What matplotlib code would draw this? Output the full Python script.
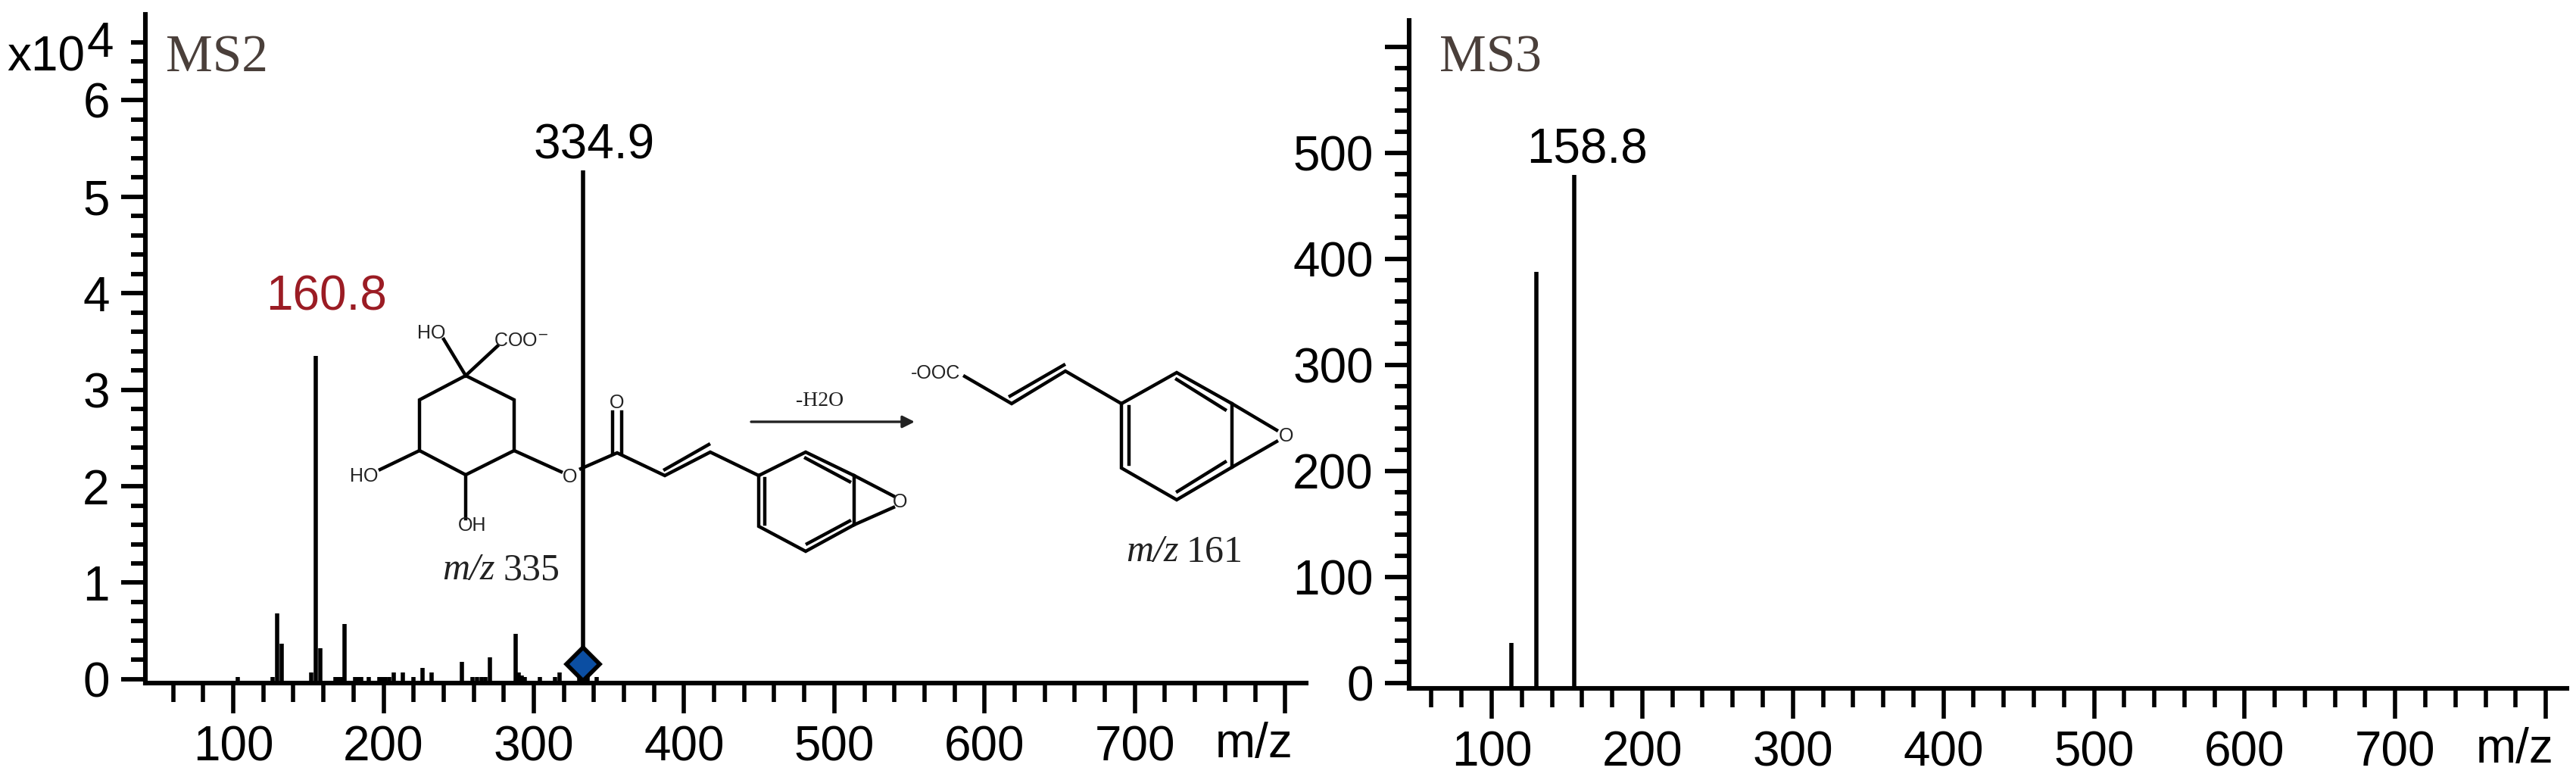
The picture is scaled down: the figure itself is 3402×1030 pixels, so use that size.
import numpy as np
import matplotlib
matplotlib.use("Agg")
import matplotlib.pyplot as plt

plt.rcParams['font.family'] = ['Liberation Sans', 'DejaVu Sans']

W, H = 3402, 1030

# MS2 peaks
ms2_mz = [103, 126, 129, 132, 152, 155, 158, 168, 170, 172, 174, 181, 183, 185, 190, 197, 199, 201, 204,
          207, 213, 220, 226, 232, 252, 259, 262, 265, 268, 271, 288, 290, 292, 294, 304, 314, 317, 330, 333, 336, 342]
ms2_int = [0.02, 0.02, 0.68, 0.37, 0.07, 3.35, 0.32, 0.02, 0.02, 0.02, 0.57, 0.02, 0.02, 0.02, 0.02, 0.02, 0.02, 0.02, 0.02,
           0.07, 0.07, 0.02, 0.12, 0.07, 0.18, 0.02, 0.02, 0.02, 0.02, 0.23, 0.47, 0.07, 0.04, 0.02, 0.02, 0.02, 0.07, 0.02, 5.27, 0.02, 0.02]
precursor_mz = 333
precursor_y = 0.155

# MS3 peaks
ms3_mz = [113, 129.5, 155]
ms3_int = [38, 388, 479]

xmajor = [100, 200, 300, 400, 500, 600, 700, 800]
xlabels = ['100', '200', '300', '400', '500', '600', '700', '']
xminor = [60, 80, 120, 140, 160, 180, 220, 240, 260, 280, 320, 340, 360, 380, 420, 440, 460, 480,
          520, 540, 560, 580, 620, 640, 660, 680, 720, 740, 760, 780]

ms2_major = [0, 1, 2, 3, 4, 5, 6]
ms2_labels = ['0', '1', '2', '3', '4', '5', '6']
ms2_minor = [v / 5 for v in range(34) if v % 5 != 0]

ms3_major = [0, 100, 200, 300, 400, 500, 600]
ms3_labels = ['0', '100', '200', '300', '400', '500', '']
ms3_minor = [v for v in range(20, 600, 20) if v % 100 != 0]

# chemical drawings, in picture pixels
quinic = [[(586, 448), (615, 496), (657, 457)],
          [(615, 496), (679, 528), (679, 595), (615, 627), (554, 595), (554, 528), (615, 496)],
          [(554, 595), (502, 620)], [(615, 627), (615, 685)],
          [(679, 595), (741, 623)], [(767, 619), (815, 598), (878, 628), (938, 597), (1002, 628)],
          [(809, 598), (809, 544)], [(821, 598), (821, 544)],
          [(878, 620), (936, 587)]]
ring1 = [[(1002, 628), (1064, 597), (1128, 628), (1128, 693), (1064, 728), (1002, 695), (1002, 628)],
         [(1064, 605), (1122, 636)], [(1010, 632), (1010, 692)], [(1066, 718), (1122, 688)],
         [(1128, 628), (1180, 655)], [(1128, 693), (1180, 670)]]
chain2 = [[(1274, 497), (1336, 533), (1407, 490), (1481, 533)], [(1334, 523), (1405, 482)]]
ring2 = [[(1481, 533), (1554, 492), (1627, 533), (1627, 617), (1554, 660), (1481, 618), (1481, 533)],
         [(1554, 501), (1618, 541)], [(1491, 537), (1491, 613)], [(1555, 649), (1618, 610)],
         [(1627, 533), (1686, 568)], [(1627, 617), (1686, 583)]]
small_labels = [('HO', 570, 440), ('COO$^{-}$', 688, 450), ('HO', 481, 629), ('OH', 624, 694),
                ('O', 753, 630), ('O', 815, 532), ('O', 1189, 663), ('-OOC', 1236, 493), ('O', 1699, 576)]


def add_panel(box, xlim, ylim, major, labels, minor):
    x0, y0, x1, y1 = box
    ax = fig.add_axes([x0 / W, 1 - y1 / H, (x1 - x0) / W, (y1 - y0) / H])
    ax.set_xlim(xlim)
    ax.set_ylim(ylim)
    for s in ['top', 'right']:
        ax.spines[s].set_visible(False)
    for s in ['left', 'bottom']:
        ax.spines[s].set_linewidth(4.4)
    ax.set_xticks(xmajor)
    ax.set_xticklabels(xlabels)
    ax.set_xticks(xminor, minor=True)
    ax.set_yticks(major)
    ax.set_yticklabels(labels)
    ax.set_yticks(minor, minor=True)
    ax.tick_params(axis='x', which='major', length=29, width=4, pad=11, labelsize=46)
    ax.tick_params(axis='x', which='minor', length=18, width=4)
    ax.tick_params(axis='y', which='major', length=23, width=4.2, pad=11, labelsize=46)
    ax.tick_params(axis='y', which='minor', length=14, width=4.2)
    return ax


fig = plt.figure(figsize=(W / 100, H / 100), dpi=100)
ax1 = add_panel((192, 19, 1725, 902), (41.5, 814), (-0.04, 6.89), ms2_major, ms2_labels, ms2_minor)
ax1.vlines(ms2_mz, -0.04, ms2_int, color='black', lw=4)
ax1.plot([precursor_mz], [precursor_y], marker='D', ms=22, mfc='#0b4ea2', mec='black', mew=4, clip_on=False)

ax2 = add_panel((1861, 27, 3390, 909), (45.2, 814), (-5, 625), ms3_major, ms3_labels, ms3_minor)
ax2.vlines(ms3_mz, -5, ms3_int, color='black', lw=4)

# overlay for the annotations, same pixels as the picture
ov = fig.add_axes([0, 0, 1, 1])
ov.set_xlim(0, W)
ov.set_ylim(H, 0)
ov.axis('off')
ov.patch.set_alpha(0)

for seg in quinic + ring1 + chain2 + ring2:
    seg = np.array(seg)
    ov.plot(seg[:, 0], seg[:, 1], color='black', lw=3.2, solid_joinstyle='miter')
for t, x, y in small_labels:
    ov.text(x, y, t, fontsize=18, ha='center', va='center', color='#222222')

ov.annotate('', xy=(1208, 557), xytext=(992, 557),
            arrowprops=dict(arrowstyle='-|>', color='#222222', lw=2.4, mutation_scale=24, shrinkA=0, shrinkB=0))
ov.text(1083, 529, '-H2O', family='Liberation Serif', fontsize=20, ha='center', va='center', color='#222222')

ov.text(654, 753, 'm/z', family='Liberation Serif', style='italic', fontsize=36, ha='right', va='center', color='#222222')
ov.text(664, 753, '335', family='Liberation Serif', fontsize=36, ha='left', va='center', color='#222222')
ov.text(1557, 729, 'm/z', family='Liberation Serif', style='italic', fontsize=36, ha='right', va='center', color='#222222')
ov.text(1567, 729, '161', family='Liberation Serif', fontsize=36, ha='left', va='center', color='#222222')

ov.text(785, 193, '334.9', fontsize=46, ha='center', va='center', color='black')
ov.text(431, 393, '160.8', fontsize=46, ha='center', va='center', color='#9b1c24')
ov.text(2096, 199, '158.8', fontsize=46, ha='center', va='center', color='black')

ov.text(286, 78, 'MS2', family='Liberation Serif', fontsize=50, ha='center', va='center', color='#4a3f3a')
ov.text(1968, 78, 'MS3', family='Liberation Serif', fontsize=50, ha='center', va='center', color='#4a3f3a')

ov.text(112, 93, 'x10', fontsize=46, ha='right', va='baseline', color='black')
ov.text(114, 75, '4', fontsize=46, ha='left', va='baseline', color='black')

ov.text(1656, 983, 'm/z', fontsize=46, ha='center', va='center', color='black')
ov.text(3321, 990, 'm/z', fontsize=46, ha='center', va='center', color='black')

fig.savefig('out.png', dpi=100)
